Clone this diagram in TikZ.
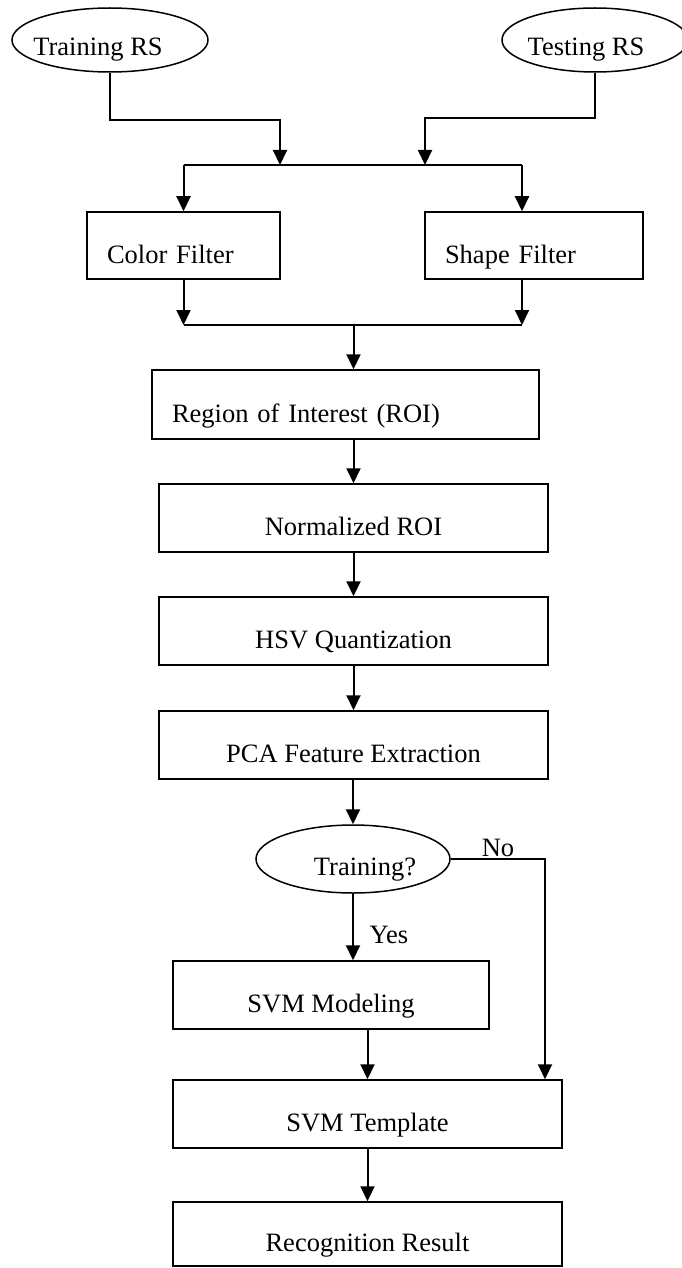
\documentclass[tikz,border=0pt]{standalone}
\usepackage{fontspec}
\setmainfont{Liberation Serif}
\usetikzlibrary{arrows.meta,shapes.geometric}
\begin{document}
\begin{tikzpicture}[x=1pt,y=1pt,
  lbl/.style={font=\fontsize{26.5}{30}\selectfont},
  box/.style={lbl, draw, line width=1.5pt, rectangle, inner sep=0pt,
    text height=40pt, text depth=5pt},
  lbox/.style={box, inner xsep=20pt, align=left},
  ell/.style={lbl, draw, line width=1.5pt, ellipse, inner sep=0pt,
    text height=36pt, text depth=4pt},
  ln/.style={line width=2pt},
  arr/.style={line width=2pt, -{Triangle[width=14pt,length=15pt]}}]
\useasboundingbox (0,0) rectangle (682,-1268);

% sources
\node[ell, minimum width=196pt, minimum height=64pt] (train) at (110,-40) {\hspace*{-24pt}Training RS};
\node[ell, minimum width=186pt, minimum height=64pt] (test) at (595,-40) {\hspace*{-18pt}Testing RS};

% filters
\node[lbox, text width=153pt, minimum height=67pt] (color) at (183.5,-245.5) {Color Filter};
\node[lbox, text width=178pt, minimum height=67pt] (shape) at (534,-245.5) {Shape Filter};

% main chain
\node[lbox, text width=347pt, minimum height=69pt] (roi) at (345.5,-404.5) {Region of Interest (ROI)};
\node[box, minimum width=389pt, minimum height=68pt] (norm) at (353.5,-518) {Normalized ROI};
\node[box, minimum width=389pt, minimum height=68pt] (hsv) at (353.5,-631) {HSV Quantization};
\node[box, minimum width=389pt, minimum height=68pt] (pca) at (353.5,-745) {PCA Feature Extraction};
\node[ell, minimum width=194pt, minimum height=68pt] (dec) at (353,-859) {\hspace*{24pt}Training?};
\node[box, minimum width=316pt, minimum height=68pt] (svmmod) at (331,-995) {SVM Modeling};
\node[box, minimum width=389pt, minimum height=68pt] (tmpl) at (367.5,-1114) {SVM Template};
\node[box, minimum width=389pt, minimum height=64pt] (recog) at (367.5,-1234) {Recognition Result};

% labels
\node[lbl, anchor=base, inner sep=0pt] (no) at (498,-856) {No};
\node[lbl, anchor=base, inner sep=0pt] (yes) at (389,-943) {Yes};

% junction coordinates
\coordinate (ta) at (280,-120);
\coordinate (tb) at (425,-118);
\coordinate (b1) at (183.5,-165);
\coordinate (b2) at (522,-165);
\coordinate (c1) at (183.5,-325);
\coordinate (c2) at (522,-325);
\coordinate (cm) at (353.5,-325);
\coordinate (nc) at (545,-859);

% top connectors
\draw[arr] (train.south) |- (ta) -- (ta |- b1);
\draw[arr] (test.south) |- (tb) -- (tb |- b1);
\draw[ln] (b1) -- (b2);
\draw[arr] (b1) -- (color.north);
\draw[arr] (b2) -- (shape.north -| b2);

% filters to ROI
\draw[arr] (color.south) -- (c1);
\draw[arr] (shape.south -| c2) -- (c2);
\draw[ln] (c1) -- (c2);
\draw[arr] (cm) -- (roi.north -| cm);

% chain
\draw[arr] (roi.south -| norm.north) -- (norm.north);
\draw[arr] (norm.south) -- (hsv.north);
\draw[arr] (hsv.south) -- (pca.north);
\draw[arr] (pca.south -| dec.north) -- (dec.north);
\draw[arr] (dec.south) -- (svmmod.north -| dec.south);
\draw[arr] (dec.east) -- (nc) -- (nc |- tmpl.north);
\draw[arr] (svmmod.south -| tmpl.north) -- (tmpl.north);
\draw[arr] (tmpl.south) -- (recog.north);
\end{tikzpicture}
\end{document}
